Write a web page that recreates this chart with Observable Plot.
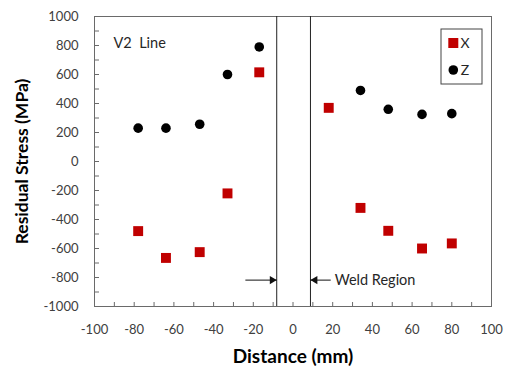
<!DOCTYPE html>
<html><head><meta charset="utf-8">
<script src="https://cdn.jsdelivr.net/npm/d3@7"></script>
<script src="https://cdn.jsdelivr.net/npm/@observablehq/plot@0.6"></script>
<style>
body{margin:0;background:#fff;}
#chart{position:relative;width:510px;height:374px;}
#chart svg{font-family:Lato,"Open Sans",sans-serif;}
</style>
</head><body><div id="chart"></div>
<script>
// Data
const xPositions = [-78, -64, -47, -33, -17, 18, 34, 48, 65, 80];
const stressX    = [-480, -665, -625, -220, 615, 370, -320, -478, -600, -565];
const zPositions = [-78, -64, -47, -33, -17, 34, 48, 65, 80];
const stressZ    = [230, 230, 257, 600, 790, 490, 360, 325, 330];
const xTicks = [-100, -80, -60, -40, -20, 0, 20, 40, 60, 80, 100];
const xMinorTicks = d3.range(-100, 101, 10);
const yTicks = [-1000, -800, -600, -400, -200, 0, 200, 400, 600, 800, 1000];
const yMinorTicks = d3.range(-1000, 1001, 100);
const weldBounds = [-8.2, 8.8];
const arrowY = -818;
const arrowTails = [-24, 19];
const seriesNames = ["X", "Z"];
const seriesColors = ["#C00000", "#000000"];

const W = 510, H = 374, mL = 94, mR = 19, mT = 16, mB = 68;
const frameW = W - mL - mR, frameH = H - mT - mB;

const dataX = xPositions.map((x, i) => ({x, y: stressX[i]}));
const dataZ = zPositions.map((x, i) => ({x, y: stressZ[i]}));
const arrowsL = [{x1: arrowTails[0], x2: weldBounds[0], y: arrowY}];
const arrowsR = [{x1: arrowTails[1], x2: weldBounds[1], y: arrowY}];
const fmt = d => String(d);

const plot = Plot.plot({
  width: W, height: H,
  marginLeft: mL, marginRight: mR, marginTop: mT, marginBottom: mB,
  style: {fontFamily: "Lato, 'Open Sans', sans-serif", background: "#fff"},
  x: {domain: [-100, 100]},
  y: {domain: [-1000, 1000]},
  marks: [
    Plot.frame({stroke: "#6a6a6a"}),
    // inward tick marks
    Plot.tickX(xMinorTicks, {x: d => d, insetTop: frameH - 4, stroke: "#6a6a6a"}),
    Plot.tickY(yMinorTicks, {y: d => d, insetRight: frameW - 5, stroke: "#6a6a6a"}),
    Plot.axisX(xTicks, {tickSize: 0, tickPadding: 18, fontSize: 13, fill: "#404040", tickFormat: fmt, label: null}),
    Plot.axisY(yTicks, {tickSize: 0, tickPadding: 16, fontSize: 13, fill: "#404040", tickFormat: fmt, label: null}),
    Plot.ruleX(weldBounds, {stroke: "#222", strokeWidth: 1}),
    Plot.link(arrowsL.concat(arrowsR), {x1: "x1", x2: "x2", y1: "y", y2: "y", stroke: "#111", strokeWidth: 1}),
    Plot.dot(arrowsL, {x: "x2", y: "y", symbol: "triangle", r: 3, fill: "#111", rotate: 90, dx: -4.6}),
    Plot.dot(arrowsR, {x: "x2", y: "y", symbol: "triangle", r: 3, fill: "#111", rotate: -90, dx: 4.6}),
    Plot.text(["Weld Region"], {x: arrowTails[1], y: arrowY, text: d => d, textAnchor: "start", dx: 4, fontSize: 14.5, fill: "#262626"}),
    Plot.text(["V2  Line"], {frameAnchor: "top-left", dx: 19, dy: 21, text: d => d, textAnchor: "start", fontSize: 14.5, fill: "#262626"}),
    Plot.dot(dataZ, {x: "x", y: "y", r: 4.8, fill: seriesColors[1], symbol: "circle"}),
    Plot.dot(dataX, {x: "x", y: "y", r: 5.6, fill: seriesColors[0], symbol: "square"}),
    Plot.text(["Distance (mm)"], {frameAnchor: "bottom", dy: 56, text: d => d, textAnchor: "middle", fontSize: 19, fontWeight: "bold", fill: "#000"}),
    Plot.text(["Residual Stress (MPa)"], {frameAnchor: "left", dx: -72, rotate: -90, text: d => d, textAnchor: "middle", fontSize: 17.5, fontWeight: "bold", fill: "#000"})
  ]
});
document.getElementById("chart").appendChild(plot);

// Legend drawn inside the plot frame (top-right)
const svg = d3.select(plot);
const lg = svg.append("g").attr("transform", `translate(${W - mR - 50},${mT + 13})`);
lg.append("rect").attr("x", 0).attr("y", 0).attr("width", 41).attr("height", 55)
  .attr("fill", "#fff").attr("stroke", "#444").attr("stroke-width", 1);
const sq = 10;
lg.append("rect").attr("x", 12.3 - sq/2).attr("y", 14 - sq/2).attr("width", sq).attr("height", sq).attr("fill", seriesColors[0]);
lg.append("circle").attr("cx", 12.3).attr("cy", 41).attr("r", 4.8).attr("fill", seriesColors[1]);
seriesNames.forEach((n, i) => {
  lg.append("text").attr("x", 24).attr("y", 14 + i * 27).attr("dy", "0.35em")
    .attr("font-size", 14).attr("fill", "#262626").text(n);
});
</script>
</body></html>
